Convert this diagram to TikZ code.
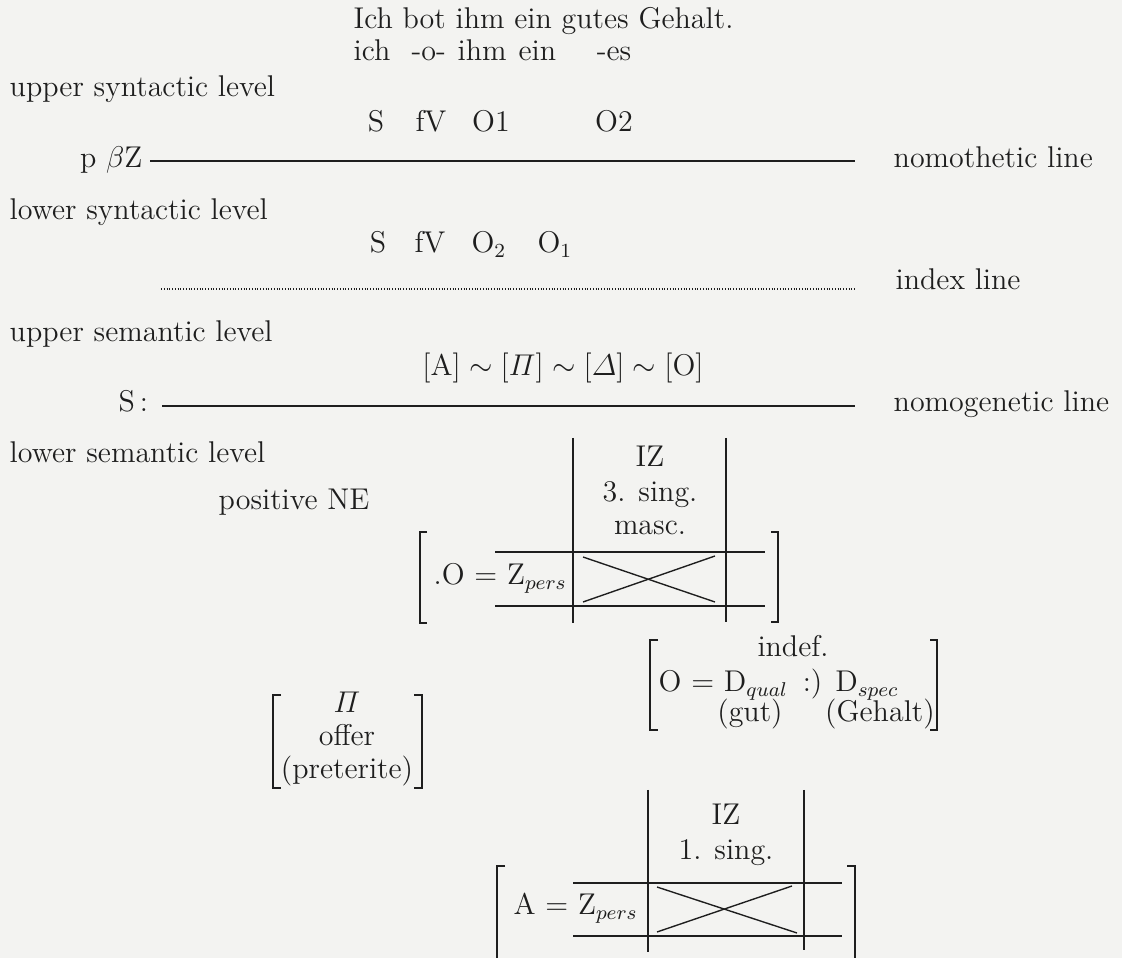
\documentclass[tikz,border=0pt]{standalone}
\usepackage{fontspec}
\usepackage{amsmath}
\definecolor{paper}{RGB}{243,243,241}
\definecolor{ink}{RGB}{30,30,30}

\begin{document}
\begin{tikzpicture}[x=0.4pt, y=-0.4pt, color=ink, line width=0.55pt,
    font=\addfontfeatures{FakeBold=0.25}\fontsize{12}{14}\selectfont,
    every node/.style={inner sep=0pt},
    lw/.style={anchor=base west},
    le/.style={anchor=base east},
    lc/.style={anchor=base},
    grid/.style={line width=0.6pt}]

    \fill[paper] (0,0) rectangle (1122,958);
    \useasboundingbox (0,0) rectangle (1122,958);
    \clip (0,0) rectangle (1122,958);

    \coordinate (N1) at (150,161);
    \coordinate (N2) at (855,161);
    \coordinate (I1) at (161,289);
    \coordinate (I2) at (855,289);
    \coordinate (G1) at (162,406);
    \coordinate (G2) at (855,406);

    % grid for the object
    \coordinate (R1) at (573,438);
    \coordinate (R2) at (573,623);
    \coordinate (R3) at (726,438);
    \coordinate (R4) at (726,622);
    \coordinate (R5) at (495,552);
    \coordinate (R6) at (765,552);
    \coordinate (R7) at (495,606);
    \coordinate (R8) at (765,606);

    % grid for the subject
    \coordinate (T1) at (648,790);
    \coordinate (T2) at (648,952);
    \coordinate (T3) at (804,790);
    \coordinate (T4) at (804,950);
    \coordinate (T5) at (573,883);
    \coordinate (T6) at (842,883);
    \coordinate (T7) at (573,936);
    \coordinate (T8) at (842,936);

    \draw (N1) -- (N2);
    \draw[line width=0.5pt, dash pattern=on 0.4pt off 0.7pt] (I1) -- (I2);
    \draw (G1) -- (G2);

    \draw[grid] (R1) -- (R2);
    \draw[grid] (R3) -- (R4);
    \draw[grid] (R5) -- (R6);
    \draw[grid] (R7) -- (R8);
    \draw (583,557) -- (715,602);
    \draw (583,602) -- (715,556);

    \draw[grid] (T1) -- (T2);
    \draw[grid] (T3) -- (T4);
    \draw[grid] (T5) -- (T6);
    \draw[grid] (T7) -- (T8);
    \draw (657,887) -- (797,933);
    \draw (657,932) -- (792,886);

    % brackets
    \draw[grid] (427,532) -| (420,623) -- (427,623);
    \draw[grid] (771,532) -| (778,622) -- (771,622);
    \draw[grid] (658,640) -| (650,730) -- (658,730);
    \draw[grid] (930,640) -| (937,730) -- (930,730);
    \draw[grid] (281,695) -| (273,788) -- (281,788);
    \draw[grid] (414,695) -| (422,788) -- (414,788);
    \draw[grid] (505,866) -| (497,970);
    \draw[grid] (847,866) -| (855,970);

%labels
    \node (sent) at (353,29) [lw] {Ich bot ihm ein gutes Gehalt.};
    \node (ich) at (353,61) [lw] {ich};
    \node (bot) at (411,61) [lw] {-o-};
    \node (ihm) at (457,61) [lw] {ihm};
    \node (ein) at (518,61) [lw] {ein};
    \node (es) at (632,61) [le] {-es};

    \node (usyn) at (9,97) [lw] {upper syntactic level};
    \node (s1) at (376,132) [lc] {S};
    \node (fv1) at (431,132) [lc] {fV};
    \node (oa1) at (491,132) [lc] {O1};
    \node (ob1) at (614,132) [lc] {O2};
    \node (pbz) at (143,168) [le] {p $\beta$Z};
    \node (nomoth) at (893,168) [lw] {nomothetic line};

    \node (lsyn) at (9,220) [lw] {lower syntactic level};
    \node (s2) at (378,253) [lc] {S};
    \node (fv2) at (430,253) [lc] {fV};
    \node (ob2) at (489,253) [lc] {O$_2$};
    \node (oa2) at (555,253) [lc] {O$_1$};
    \node (index) at (895,290) [lw] {index line};

    \node (usem) at (9,342) [lw] {upper semantic level};
    \node (chain) at (563,376) [lc] {$[\mathrm{A}] \sim [\varPi] \sim [\varDelta] \sim [\mathrm{O}]$};
    \node (scolon) at (118,412) [lw] {S\,:};
    \node (nomogen) at (893,412) [lw] {nomogenetic line};

    \node (lsem) at (9,463) [lw] {lower semantic level};
    \node (posne) at (218,510) [lw] {positive NE};

    \node (iz1) at (650,467) [lc] {IZ};
    \node (sing3) at (650,502) [lc] {3. sing.};
    \node (masc) at (650,535) [lc] {masc.};
    \node (ozp) at (433,585) [lw] {.O $=$ Z$_{pers}$};

    \node (indef) at (793,657) [lc] {indef.};
    \node (odd) at (658,692) [lw] {O $=$ D$_{qual}$\, :) D$_{spec}$};
    \node (gut) at (750,722) [lc] {(gut)};
    \node (gehalt) at (880,722) [lc] {(Gehalt)};

    \node (pi) at (347,713) [lc] {$\varPi$};
    \node (offer) at (347,746) [lc] {offer};
    \node (pret) at (347,779) [lc] {(preterite)};

    \node (iz2) at (726,825) [lc] {IZ};
    \node (sing1) at (726,860) [lc] {1. sing.};
    \node (azp) at (513,915) [lw] {A $=$ Z$_{pers}$};

\end{tikzpicture}
\end{document}
